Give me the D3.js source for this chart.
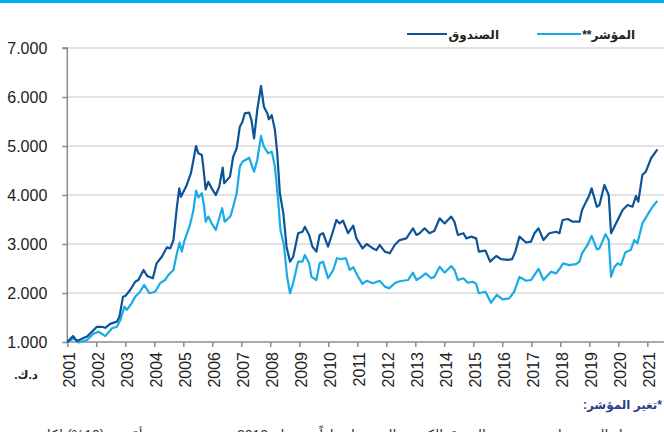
<!DOCTYPE html>
<html><head><meta charset="utf-8">
<script src="https://cdn.jsdelivr.net/npm/d3@7"></script>
<style>html,body{margin:0;padding:0;background:#fff;overflow:hidden}svg{display:block}</style>
</head><body>
<svg id="c" width="664" height="432"></svg>
<script>
const yearTicks = [2001,2002,2003,2004,2005,2006,2007,2008,2009,2010,2011,2012,2013,2014,2015,2016,2017,2018,2019,2020,2021];
const yTicks = [1000,2000,3000,4000,5000,6000,7000];
const seriesNames = ["الصندوق","المؤشر**"];

const fundYears = [2001.00,2001.20,2001.33,2001.68,2002.02,2002.19,2002.31,2002.48,2002.71,2002.80,2002.92,2003.00,2003.17,2003.34,2003.45,2003.63,2003.76,2003.95,2004.08,2004.26,2004.43,2004.55,2004.66,2004.78,2004.86,2004.92,2005.12,2005.26,2005.35,2005.44,2005.52,2005.64,2005.69,2005.77,2005.86,2005.98,2006.12,2006.24,2006.36,2006.41,2006.61,2006.72,2006.84,2006.95,2007.04,2007.12,2007.27,2007.35,2007.44,2007.55,2007.68,2007.78,2007.90,2007.95,2008.05,2008.16,2008.24,2008.33,2008.45,2008.56,2008.68,2008.79,2008.96,2009.11,2009.19,2009.34,2009.45,2009.59,2009.70,2009.82,2009.99,2010.14,2010.28,2010.39,2010.51,2010.68,2010.86,2010.97,2011.18,2011.32,2011.54,2011.66,2011.77,2011.95,2012.12,2012.29,2012.46,2012.69,2012.92,2013.04,2013.15,2013.32,2013.49,2013.66,2013.84,2014.01,2014.24,2014.35,2014.47,2014.66,2014.76,2014.93,2015.10,2015.19,2015.42,2015.58,2015.79,2015.96,2016.19,2016.34,2016.45,2016.59,2016.82,2016.99,2017.11,2017.25,2017.42,2017.62,2017.86,2017.97,2018.08,2018.26,2018.43,2018.66,2018.75,2018.89,2018.98,2019.08,2019.26,2019.35,2019.52,2019.67,2019.75,2019.92,2020.15,2020.32,2020.49,2020.61,2020.69,2020.83,2020.95,2021.13,2021.35];
const fundValues = [1000,1120,1020,1110,1310,1310,1290,1370,1415,1520,1925,1940,2060,2230,2265,2470,2345,2300,2605,2740,2930,2910,3080,3760,4135,3965,4205,4440,4715,5000,4850,4815,4575,4115,4270,4135,4000,4170,4560,4240,4375,4780,4950,5395,5495,5665,5680,5530,5155,5735,6225,5800,5665,5545,5630,5325,4850,4035,3625,2945,2640,2740,3220,3250,3350,3185,2950,2845,3185,3220,2945,3220,3490,3420,3475,3220,3375,3115,2910,3000,2910,2875,2980,2845,2810,2980,3080,3115,3320,3185,3220,3320,3220,3270,3525,3420,3560,3455,3185,3220,3115,3150,3115,2845,2865,2640,2755,2690,2675,2690,2845,3150,3030,3050,3220,3320,3080,3220,3250,3220,3490,3510,3455,3455,3695,3865,3965,4135,3760,3795,4205,4000,3220,3420,3695,3795,3760,3980,3865,4410,4475,4750,4930];

const indexYears = [2001.00,2001.22,2001.39,2001.68,2001.91,2002.08,2002.31,2002.54,2002.71,2002.83,2002.97,2003.05,2003.22,2003.34,2003.51,2003.65,2003.83,2004.03,2004.20,2004.37,2004.49,2004.66,2004.78,2004.87,2004.95,2005.03,2005.23,2005.35,2005.44,2005.52,2005.64,2005.72,2005.77,2005.86,2005.98,2006.12,2006.24,2006.34,2006.43,2006.63,2006.72,2006.84,2006.95,2007.04,2007.27,2007.44,2007.55,2007.68,2007.78,2007.93,2008.05,2008.16,2008.27,2008.35,2008.47,2008.58,2008.68,2008.79,2008.96,2009.11,2009.19,2009.34,2009.42,2009.59,2009.70,2009.82,2009.99,2010.17,2010.30,2010.45,2010.60,2010.74,2010.86,2011.03,2011.18,2011.32,2011.54,2011.77,2011.95,2012.10,2012.29,2012.40,2012.57,2012.75,2012.92,2013.04,2013.21,2013.36,2013.55,2013.66,2013.84,2014.01,2014.24,2014.35,2014.47,2014.66,2014.81,2014.98,2015.10,2015.19,2015.42,2015.61,2015.81,2016.01,2016.24,2016.41,2016.59,2016.82,2016.99,2017.25,2017.42,2017.68,2017.86,2017.99,2018.10,2018.31,2018.54,2018.66,2018.75,2018.94,2019.08,2019.26,2019.35,2019.56,2019.67,2019.75,2019.86,2019.98,2020.09,2020.24,2020.43,2020.55,2020.66,2020.83,2021.00,2021.18,2021.35];
const indexValues = [1000,1075,990,1040,1175,1210,1120,1280,1310,1450,1720,1655,1790,1925,2025,2165,1995,2025,2200,2265,2370,2470,2810,3030,2845,3050,3390,3695,4090,3950,4035,3760,3455,3560,3420,3285,3525,3730,3455,3570,3760,4035,4580,4680,4760,4475,4715,5205,4985,4850,4885,4580,3900,3285,2980,2330,1995,2210,2640,2640,2775,2605,2330,2265,2605,2640,2300,2470,2710,2690,2710,2470,2525,2330,2185,2250,2200,2250,2130,2095,2200,2230,2250,2265,2415,2265,2330,2400,2300,2330,2535,2415,2550,2470,2265,2300,2210,2230,2185,1995,2025,1800,1960,1870,1890,2025,2330,2250,2265,2490,2265,2435,2400,2505,2605,2570,2590,2640,2810,2980,3165,2890,2910,3200,3080,2330,2525,2605,2570,2825,2880,3080,3015,3420,3590,3760,3880];

const unitLabel = "د.ك.";
const noteTitle = "*تغير المؤشر:";
const noteText = "تم تعديل المؤشر ليصبح مؤشر السوق الكويتي الوزني اعتباراً من عام 2012 ، مع تحديد وزن أقصى (10%) لكل سهم من أسهم المؤشر";

const fundColor = "#0D5396", indexColor = "#19ABE6";
const AR = "Arial, 'Liberation Sans', 'DejaVu Sans', sans-serif";

const svg = d3.select("#c");
svg.append("rect").attr("x",0).attr("y",0).attr("width",664).attr("height",3).attr("fill","#00AEEF");

const x = d3.scaleLinear().domain([2001,2021]).range([67.3,647.3]);
const y = d3.scaleLinear().domain([1000,7000]).range([342,48]);
const right = 664;

// gridlines
svg.append("g").selectAll("line").data(yTicks.filter(d=>d>1000)).join("line")
  .attr("x1",x(2001)).attr("x2",right).attr("y1",d=>y(d)).attr("y2",d=>y(d))
  .attr("stroke","#D9D9D9").attr("stroke-width",1.5);

// y axis
const yAxis = d3.axisLeft(y).tickValues(yTicks).tickSize(5).tickFormat(d=>d3.format(",")(d).replace(",","."));
const gy = svg.append("g").attr("transform",`translate(${x(2001)},0)`).call(yAxis);
gy.select(".domain").attr("stroke","#8C8C8C").attr("stroke-width",1.5).attr("d",`M-5,${y(7000)}H0V${y(1000)}`);
gy.selectAll(".tick line").attr("stroke","#8C8C8C").attr("stroke-width",1.5);
gy.selectAll(".tick text").attr("x",-20).attr("font-family",AR).attr("font-size",16).attr("fill","#222");

// x axis
const xAxis = d3.axisBottom(x).tickValues(yearTicks).tickSize(5).tickFormat(d3.format("d"));
const gx = svg.append("g").attr("transform",`translate(0,${y(1000)})`).call(xAxis);
gx.select(".domain").attr("stroke","#8C8C8C").attr("stroke-width",1.5).attr("d",`M${x(2001)},0H${right}`);
gx.selectAll(".tick line").attr("stroke","#8C8C8C").attr("stroke-width",1.5);
gx.selectAll(".tick text").attr("font-family",AR).attr("font-size",16).attr("fill","#222")
  .attr("text-anchor","end").attr("dy","0.35em")
  .attr("transform","translate(2,10) rotate(-90)").attr("x",0).attr("y",0);

// lines
const line = d3.line().x(d=>x(d[0])).y(d=>y(d[1]));
svg.append("path").datum(indexYears.map((t,i)=>[t,indexValues[i]]))
  .attr("d",line).attr("fill","none").attr("stroke",indexColor).attr("stroke-width",2.2).attr("stroke-linejoin","round");
svg.append("path").datum(fundYears.map((t,i)=>[t,fundValues[i]]))
  .attr("d",line).attr("fill","none").attr("stroke",fundColor).attr("stroke-width",2.2).attr("stroke-linejoin","round");

// legend
const leg = svg.append("g");
const legItems = [
  {name:seriesNames[0], color:fundColor, lx1:407, lx2:447, tx:499},
  {name:seriesNames[1], color:indexColor, lx1:537, lx2:581, tx:635}
];
legItems.forEach(it=>{
  leg.append("line").attr("x1",it.lx1).attr("x2",it.lx2).attr("y1",34).attr("y2",34)
    .attr("stroke",it.color).attr("stroke-width",2.2);
  leg.append("text").attr("x",it.tx).attr("y",38.5).attr("direction","rtl").attr("text-anchor","start")
    .attr("font-family",AR).attr("font-weight","bold").attr("font-size",12).attr("fill","#222").text(it.name);
});

// unit label
svg.append("text").attr("x",38).attr("y",379).attr("direction","rtl").attr("text-anchor","start")
  .attr("font-family",AR).attr("font-weight","bold").attr("font-size",12).attr("fill","#222").text(unitLabel);

// note
svg.append("text").attr("x",662).attr("y",409).attr("direction","rtl").attr("text-anchor","start")
  .attr("font-family",AR).attr("font-weight","bold").attr("font-size",12).attr("fill","#2E3F8C").text(noteTitle);
svg.append("text").attr("x",662).attr("y",440).attr("direction","rtl").attr("text-anchor","start")
  .attr("font-family",AR).attr("font-size",14).attr("fill","#333").text(noteText);
</script>
</body></html>
